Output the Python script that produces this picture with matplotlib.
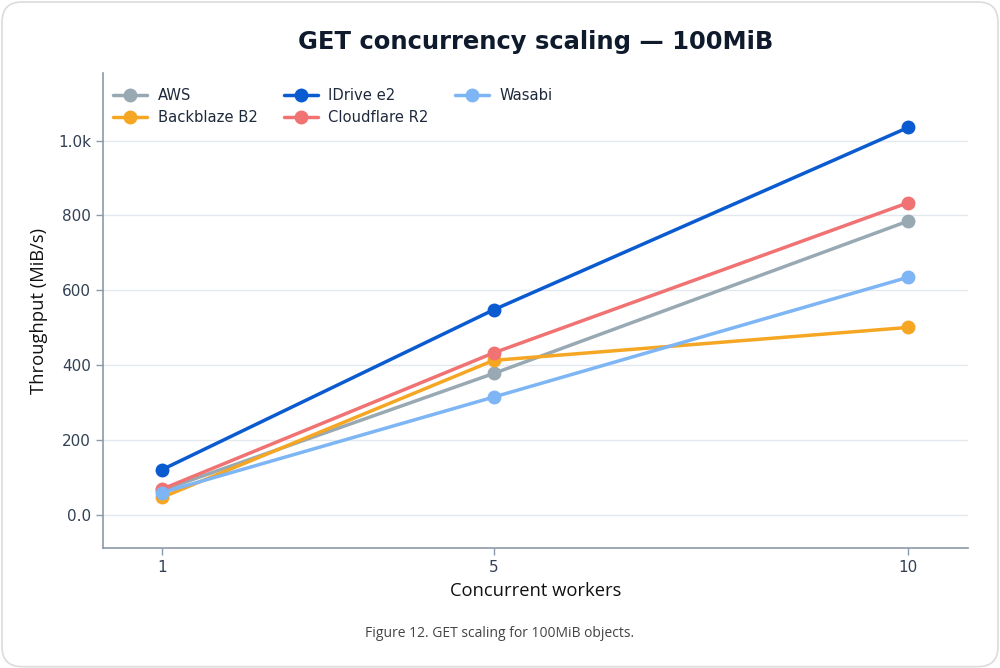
import matplotlib
matplotlib.use("Agg")
import matplotlib.pyplot as plt
from matplotlib.patches import FancyBboxPatch
from matplotlib.ticker import FuncFormatter, FixedLocator

workers = [1, 5, 10]
providers = ["AWS", "Backblaze B2", "IDrive e2", "Cloudflare R2", "Wasabi"]
aws = [66, 378, 785]
backblaze = [47, 413, 501]
idrive = [121, 548, 1035]
cloudflare = [69, 433, 834]
wasabi = [60, 315, 635]
series = [aws, backblaze, idrive, cloudflare, wasabi]
colors = ["#98a9b3", "#f5a623", "#0a5bd0", "#f07272", "#7db5f5"]
yticks = [0, 200, 400, 600, 800, 1000]

fig = plt.figure(figsize=(10, 6.68), dpi=100)
fig.patch.set_facecolor("white")
card = FancyBboxPatch((0.002, 0.002), 0.996, 0.995, boxstyle="round,pad=0,rounding_size=0.02",
                      transform=fig.transFigure, facecolor="white", edgecolor="#dcdcdc",
                      linewidth=1.2, mutation_aspect=1.5, zorder=-10)
fig.patches.append(card)

ax = fig.add_axes([0.103, 0.1796, 0.865, 0.711])
ax.set_facecolor("none")
for name, vals, c in zip(providers, series, colors):
    ax.plot(workers, vals, color=c, linewidth=2.5, marker="o", markersize=9,
            label=name, solid_capstyle="round")

ax.set_xlim(0.29, 10.72)
ax.set_ylim(-88, 1180)
ax.set_xticks(workers)
ax.set_xticklabels([str(w) for w in workers])
ax.yaxis.set_major_locator(FixedLocator(yticks))

def fmt(v, pos):
    if v >= 1000:
        return f"{v/1000:.1f}k"
    if v == 0:
        return "0.0"
    return f"{v:.0f}"

ax.yaxis.set_major_formatter(FuncFormatter(fmt))
ax.grid(axis="y", color="#e3e8ef", linewidth=1.0)
ax.set_axisbelow(True)
for s in ["top", "right"]:
    ax.spines[s].set_visible(False)
for s in ["left", "bottom"]:
    ax.spines[s].set_color("#8d9aa8")
    ax.spines[s].set_linewidth(1.2)
ax.tick_params(axis="both", colors="#8d9aa8", labelcolor="#334155", labelsize=11,
               length=5, width=1.0)

ax.set_title("GET concurrency scaling — 100MiB", fontsize=17.5, fontweight="bold",
             color="#0f1b2d", pad=17)
ax.set_xlabel("Concurrent workers", fontsize=13.2, family="Open Sans", color="#111111", labelpad=5)
ax.set_ylabel("Throughput (MiB/s)", fontsize=13.2, family="Open Sans", color="#111111", labelpad=7)

leg = ax.legend(loc="upper left", bbox_to_anchor=(-0.005, 1.0), ncol=3, frameon=False,
                fontsize=10.6, handlelength=2.3, columnspacing=1.8, labelspacing=0.5,
                borderaxespad=0.6, handletextpad=0.7)
for t in leg.get_texts():
    t.set_color("#1e293b")

fig.text(0.5, 0.052, "Figure 12. GET scaling for 100MiB objects.", ha="center", va="center",
         fontsize=10, family="Open Sans", color="#444444")

fig.savefig("out.png", dpi=100, facecolor="white")
